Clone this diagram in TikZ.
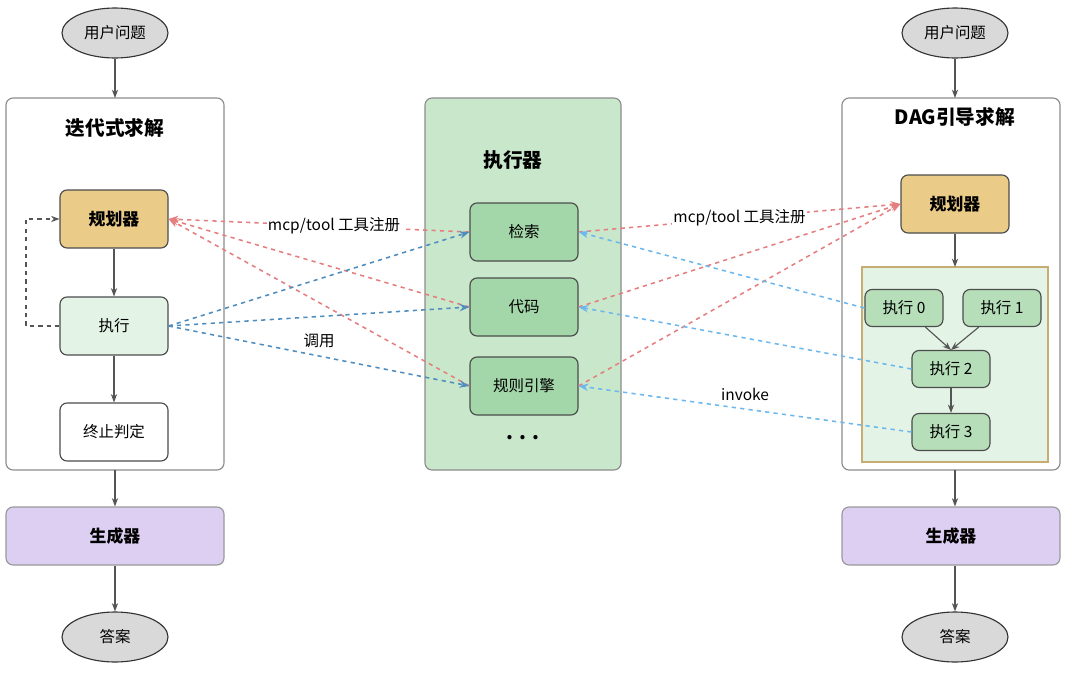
\documentclass[tikz,border=0pt]{standalone}
\usepackage{fontspec}
\setmainfont{Noto Sans CJK SC}
\usetikzlibrary{shapes.geometric,arrows.meta}
\definecolor{planc}{HTML}{EACB88}
\definecolor{genc}{HTML}{DCCFF2}
\definecolor{execc}{HTML}{C9E7CB}
\definecolor{toolc}{HTML}{A3D6A8}
\definecolor{lightg}{HTML}{E3F3E5}
\definecolor{redl}{HTML}{E57F7F}
\definecolor{bluel}{HTML}{4F8DBF}
\definecolor{skyl}{HTML}{6CB8EE}
\definecolor{edgec}{HTML}{555555}
\begin{document}
\begin{tikzpicture}[
        x=0.025cm, y=-0.025cm,
        font=\fontsize{11}{13}\selectfont,
        flow/.style = {draw=edgec, line width=0.8pt, -{Stealth[length=6pt]}},
        ask/.style={ellipse, draw=black!80, fill=black!15, line width=0.8pt, minimum width=106*0.025cm, minimum height=50*0.025cm}, % 椭圆
        frame/.style={draw=black!45, rounded corners=5pt, line width=0.8pt},
        cell/.style={draw=black!70, rounded corners=5pt, line width=0.8pt, minimum width=108*0.025cm, minimum height=58*0.025cm},
        wide/.style={cell, draw=black!40, minimum width=218*0.025cm},
        small/.style={draw=black!70, fill=toolc!80, rounded corners=5pt, line width=0.8pt, minimum width=78*0.025cm, minimum height=37*0.025cm},
        reg/.style={dashed, draw=redl, line width=1.1pt, -{Stealth[length=7pt]}},
        call/.style={dashed, draw=bluel, line width=1.1pt, -{Stealth[length=7pt]}},
        inv/.style={dashed, draw=skyl, line width=1.1pt, -{Stealth[length=7pt]}},
        title/.style={font=\fontsize{14}{16}\selectfont\bfseries},
    ]
    \useasboundingbox (0,0) rectangle (1080,672);

    % 左侧：迭代式求解
    \node[ask] (qL) at (115,33) {用户问题};
    \draw[frame] (6,98) rectangle (224,470);
    \coordinate (topL) at (115,98);
    \coordinate (botL) at (115,470);
    \node[title] at (115,128) {迭代式求解};
    \node[cell, fill=planc, font=\fontsize{12}{14}\selectfont\bfseries] (planL) at (114,219) {规划器};
    \node[cell, fill=lightg] (execL) at (114,326) {执行};
    \node[cell, fill=white] (stopL) at (114,432) {终止判定};
    \node[wide, fill=genc, font=\fontsize{12}{14}\selectfont\bfseries] (genL) at (115,536) {生成器};
    \node[ask] (ansL) at (115,637) {答案};
    \draw[flow] (qL) -- (topL);
    \draw[flow] (planL) -- (execL);
    \draw[flow] (execL) -- (stopL);
    \draw[flow] (botL) -- (genL);
    \draw[flow] (genL) -- (ansL);
    \draw[flow, dashed] (execL.west) -- (26,326) -- (26,219) -- (planL.west);

    % 中间：执行器
    \draw[frame, fill=execc] (425,98) rectangle (621,470);
    \node[title] at (513,160) {执行器};
    \node[cell, fill=toolc] (search) at (524,232) {检索};
    \node[cell, fill=toolc] (code) at (524,307) {代码};
    \node[cell, fill=toolc] (rule) at (524,386) {规则引擎};
    \node[font=\fontsize{14}{16}\selectfont\bfseries] at (523,438) {. . .};

    % 右侧：DAG引导求解
    \node[ask] (qR) at (955,33) {用户问题};
    \draw[frame] (842,98) rectangle (1060,470);
    \coordinate (topR) at (955,98);
    \coordinate (botR) at (955,470);
    \node[title] at (955,117) {DAG引导求解};
    \node[cell, fill=planc, font=\fontsize{12}{14}\selectfont\bfseries] (planR) at (955,204) {规划器};
    \draw[draw=planc!85!black, fill=lightg, line width=1pt] (862,267) rectangle (1048,462);
    \coordinate (dagTop) at (955,267);
    \node[small] (e0) at (904,308) {执行 0};
    \node[small] (e1) at (1002,308) {执行 1};
    \node[small] (e2) at (951,369) {执行 2};
    \node[small] (e3) at (951,432) {执行 3};
    \node[wide, fill=genc, font=\fontsize{12}{14}\selectfont\bfseries] (genR) at (951,536) {生成器};
    \node[ask] (ansR) at (955,637) {答案};
    \draw[flow] (qR) -- (topR);
    \draw[flow] (planR) -- (dagTop);
    \draw[flow] (e0) -- (e2.north);
    \draw[flow] (e1) -- (e2.north);
    \draw[flow] (e2) -- (e3);
    \draw[flow] (botR) -- (botR |- genR.north);
    \draw[flow] (ansR.north |- genR.south) -- (ansR);

    % 注册与调用
    \draw[reg] (search.west) -- node[pos=0.45, fill=white, inner sep=1pt] {mcp/tool 工具注册} (planL.east);
    \draw[reg] (code.west) -- (planL.east);
    \draw[reg] (rule.west) -- (planL.east);
    \draw[reg] (search.east) -- node[pos=0.5, fill=white, inner sep=1pt] {mcp/tool 工具注册} (planR.west);
    \draw[reg] (code.east) -- (planR.west);
    \draw[reg] (rule.east) -- (planR.west);
    \draw[call] (execL.east) -- (search.west);
    \draw[call] (execL.east) -- (code.west);
    \draw[call] (execL.east) -- node[pos=0.5, above=2pt] {调用} (rule.west);
    \draw[inv] (e0.west) -- (search.east);
    \draw[inv] (e2.west) -- (code.east);
    \draw[inv] (e3.west) -- node[pos=0.5, above=2pt] {invoke} (rule.east);
\end{tikzpicture}
\end{document}
